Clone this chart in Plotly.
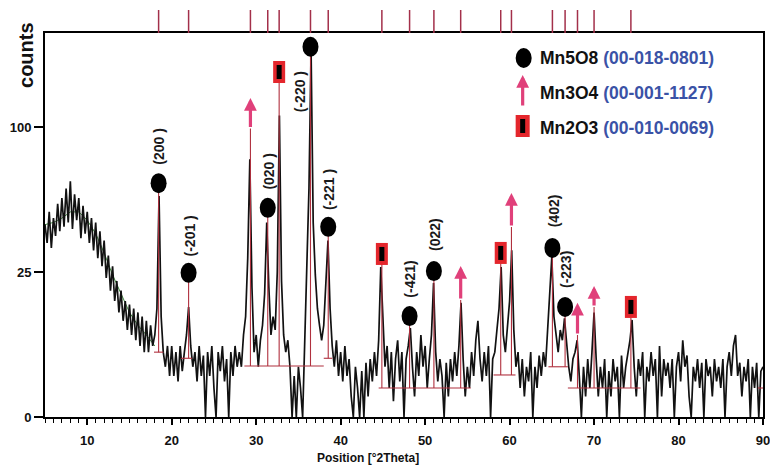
import numpy as np
import plotly.graph_objects as go

# ---------------- data (counts) ----------------
two_theta_start = 5.0
two_theta_step = 0.25
counts = [
    44, 36, 50, 34, 47, 39, 54, 41, 57, 43, 62, 45, 66, 42, 59, 46, 57, 38, 53, 40,          # 5.00 - 9.75
    50, 36, 47, 33, 45, 30, 41, 27, 37, 23, 31, 19, 27, 16, 22, 13, 19, 11, 16, 9,           # 10.00 - 14.75
    15, 8, 14, 7, 13, 6, 12, 5, 11, 5, 10, 6, 8, 14, 58, 12, 5, 3, 6, 2,                     # 15.00 - 19.75
    6, 2, 5, 1.5, 6, 2.5, 5, 8, 14.4, 6, 3, 5, 1.5, 6, 2, 4.5, 0, 5, 2, 6,                    # 20.00 - 24.75
    1, 0, 5, 2.5, 6, 1.5, 4, 0, 5, 2, 6, 3, 5, 3, 8, 12, 30, 79, 20, 5,                       # 25.00 - 29.75
    8, 3, 7, 10, 18, 45, 20, 8, 12, 9, 25, 108, 22, 8, 5, 7, 3, 0, 2, 0,                      # 30.00 - 34.75
    3, 1, 0, 8, 22, 62, 160, 45, 24, 14, 10, 7, 10, 20, 37, 14, 6, 3, 7, 2,                   # 35.00 - 39.75
    5, 1.5, 6, 2, 4, 0.5, 0, 3, 1, 0, 2.5, 0, 3.5, 0.5, 4, 1.5, 5, 2, 7, 26.7,                # 40.00 - 44.75
    11, 3, 6, 1, 5, 0.3, 4, 7, 1.5, 5, 0, 4, 6, 9.4, 3, 0.5, 5, 2, 8, 3,                      # 45.00 - 49.75
    6, 1, 4, 8, 21.3, 5, 1.5, 4, 2, 0, 3.5, 0.5, 4, 1.5, 5, 2, 6, 15.5, 4, 0.5,               # 50.00 - 54.75
    3, 1, 5, 2, 7, 11, 4, 1.5, 5, 2, 6, 0, 4, 5, 9, 14, 26.7, 8, 5, 9,                        # 55.00 - 59.75
    16, 33, 9, 3, 5, 1, 4, 0.5, 3, 1.5, 5, 0, 3, 1, 4.5, 2, 5, 3, 9, 17,                      # 60.00 - 64.75
    30.4, 12, 8, 5, 9, 7, 11.6, 6, 3, 1.5, 4, 5, 7, 2, 0, 3, 0.5, 4, 1, 5,                    # 65.00 - 69.75
    13, 4, 0.5, 3, 1, 4, 0, 2.5, 0.5, 4, 1.5, 3, 0, 4.5, 1, 3, 5, 7, 11.2, 3,                 # 70.00 - 74.75
    0.5, 4, 2, 5, 0, 3, 1.5, 5, 2, 4, 0, 6, 0.5, 4, 2, 3.5, 1, 4, 0, 3,                       # 75.00 - 79.75
    5, 1.5, 7, 3, 4.5, 0.5, 0, 3, 1.5, 4, 1, 3.5, 0, 4, 2, 3, 0.5, 4, 1.5, 3,                 # 80.00 - 84.75
    1, 4, 0, 3, 5, 2, 6, 8, 2, 3.5, 0.5, 3, 1.5, 4, 0, 3, 1, 3.5, 0, 2.5,                     # 85.00 - 89.75
    3,                                                                                        # 90.00
]

# smoothed background (green)
bg_two_theta = [5, 6, 7, 8, 9, 10, 11, 12, 13, 14, 15, 16, 17, 18]
bg_counts = [44, 45, 47, 50, 50, 46, 40, 32, 24, 18, 13, 10, 8, 6]

# reference phases
mn5o8_pos = [18.45, 22.0, 31.37, 36.43, 38.53, 48.16, 51.04, 65.07, 66.57]
mn5o8_hkl = ["(200 )", "(-201 )", "(020 )", "(-220 )", "(-221 )", "(-421)", "(022)", "(402)", "(-223)"]
mn5o8_marker_counts = [65, 24.7, 52, 163, 43, 12.1, 25.3, 34, 14.4]
mn5o8_base_counts = [5, 4.1, 3.1, 3.1, 4.1, 1, 1, 3, 3]

mn3o4_pos = [29.32, 54.21, 60.22, 68.04, 70.0]
mn3o4_tip_counts = [121, 27.1, 59.7, 15.5, 20.4]
mn3o4_tail_counts = [99, 16.3, 42.9, 8.0, 14.4]
mn3o4_base_counts = [3.1, 1, 2.1, 1, 1]

mn2o3_pos = [32.72, 44.88, 58.95, 74.36]
mn2o3_marker_counts = [141.5, 31.6, 32, 14.4]
mn2o3_base_counts = [3.1, 1, 2.1, 1]

# calculated-profile baseline segments (red)
seg_start = [17.9, 21.1, 28.6, 38.0, 44.5, 58.1, 64.6, 66.9, 89.4]
seg_end = [19.0, 22.4, 38.0, 39.0, 55.4, 60.7, 66.9, 75.5, 90.0]
seg_level = [5, 4.1, 3.1, 4.1, 1.0, 2.1, 3.0, 1.0, 1.0]

x_tick_vals = [10, 20, 30, 40, 50, 60, 70, 80, 90]
y_tick_counts = [0, 25, 100]
y_tick_text = ["0", "25", "100"]

legend_names = ["Mn5O8", "Mn3O4", "Mn2O3"]
legend_cards = ["(00-018-0801)", "(00-001-1127)", "(00-010-0069)"]

# ---------------- figure ----------------
FONT = "Liberation Sans, Arial, sans-serif"
BLUE = "#3a52a6"
PINK = "#e0407a"
RED = "#e4262c"
STICK = "#b0303e"

def sq(v):
    return float(np.sqrt(v))

two_theta = two_theta_start + two_theta_step * np.arange(len(counts))
y_obs = np.sqrt(np.asarray(counts, dtype=float))

fig = go.Figure()

fig.add_trace(go.Scatter(x=bg_two_theta, y=np.sqrt(bg_counts), mode="lines",
                         line=dict(color="#3d8a3d", width=1), hoverinfo="skip", showlegend=False))
fig.add_trace(go.Scatter(x=two_theta, y=y_obs, mode="lines",
                         line=dict(color="#111111", width=1.7), showlegend=False))

# red profile: baseline segments + sticks
px, py = [], []
for a, b, l in zip(seg_start, seg_end, seg_level):
    px += [a, b, None]
    py += [sq(l), sq(l), None]
for pos_list, base_list, top_list in [
    (mn5o8_pos, mn5o8_base_counts, mn5o8_marker_counts),
    (mn3o4_pos, mn3o4_base_counts, mn3o4_tail_counts),
    (mn2o3_pos, mn2o3_base_counts, mn2o3_marker_counts),
]:
    for p, b, t in zip(pos_list, base_list, top_list):
        px += [p, p, None]
        py += [sq(b), sq(t), None]
fig.add_trace(go.Scatter(x=px, y=py, mode="lines", line=dict(color=STICK, width=1.1),
                         hoverinfo="skip", showlegend=False))

# top reference ticks
all_pos = sorted(mn5o8_pos + mn3o4_pos + mn2o3_pos)
tx, ty = [], []
for p in all_pos:
    tx += [p, p, None]
    ty += [0, 1, None]
fig.add_trace(go.Scatter(x=tx, y=ty, xaxis="x", yaxis="y2", mode="lines",
                         line=dict(color="#a3304a", width=1.5), hoverinfo="skip", showlegend=False))

shapes = []
annotations = []

# Mn5O8 circles + hkl labels
label_shift = {"(-220 )": (-11, -45)}
for p, c, hkl in zip(mn5o8_pos, mn5o8_marker_counts, mn5o8_hkl):
    shapes.append(dict(type="circle", xref="x", yref="y", xsizemode="pixel", ysizemode="pixel",
                       xanchor=p, yanchor=sq(c), x0=-8, x1=8, y0=-10, y1=10,
                       fillcolor="black", line=dict(width=0)))
    dx, dy = label_shift.get(hkl, (1, 37))
    annotations.append(dict(x=p, y=sq(c), xref="x", yref="y", text=hkl, showarrow=False,
                            textangle=-90, xshift=dx, yshift=dy, xanchor="center", yanchor="middle",
                            font=dict(family=FONT, size=14, color="#1a1a1a", weight="bold")))

# Mn3O4 arrows
for p, tip, tail in zip(mn3o4_pos, mn3o4_tip_counts, mn3o4_tail_counts):
    annotations.append(dict(x=p, y=sq(tip), ax=p, ay=sq(tail), xref="x", yref="y",
                            axref="x", ayref="y", text="", showarrow=True,
                            arrowhead=2, arrowsize=0.8, arrowwidth=3.2, arrowcolor=PINK))

# Mn2O3 rectangles
for p, c in zip(mn2o3_pos, mn2o3_marker_counts):
    shapes.append(dict(type="rect", xref="x", yref="y", xsizemode="pixel", ysizemode="pixel",
                       xanchor=p, yanchor=sq(c), x0=-6, x1=6, y0=-11, y1=11,
                       fillcolor=RED, line=dict(width=0)))
    shapes.append(dict(type="rect", xref="x", yref="y", xsizemode="pixel", ysizemode="pixel",
                       xanchor=p, yanchor=sq(c), x0=-2.5, x1=2.5, y0=-7, y1=7,
                       fillcolor="black", line=dict(width=0)))

# legend (paper coords; plot area is 717 x 407 px starting at x=45, bottom y=417)
def pxx(x):
    return (x - 45) / 717.0

def pyy(y):
    return (417 - y) / 407.0

shapes.append(dict(type="circle", xref="paper", yref="paper", x0=pxx(515), x1=pxx(531),
                   y0=pyy(68), y1=pyy(48), fillcolor="black", line=dict(width=0)))
annotations.append(dict(x=pxx(522), y=pyy(75), xref="paper", yref="paper", ax=0, ay=32,
                        text="", showarrow=True, arrowhead=2, arrowsize=0.8, arrowwidth=3.2,
                        arrowcolor=PINK))
shapes.append(dict(type="rect", xref="paper", yref="paper", x0=pxx(515), x1=pxx(529),
                   y0=pyy(137), y1=pyy(115), fillcolor=RED, line=dict(width=0)))
shapes.append(dict(type="rect", xref="paper", yref="paper", x0=pxx(519.5), x1=pxx(524.5),
                   y0=pyy(133), y1=pyy(119), fillcolor="black", line=dict(width=0)))
for name, card, yy in zip(legend_names, legend_cards, [58, 93, 128]):
    annotations.append(dict(x=pxx(537), y=pyy(yy), xref="paper", yref="paper", showarrow=False,
                            xanchor="left", yanchor="middle",
                            text=f"{name} <span style='color:{BLUE}'>{card}</span>",
                            font=dict(family=FONT, size=17.5, color="#111111", weight="bold")))

# axis titles
annotations.append(dict(x=pxx(26), y=pyy(55), xref="paper", yref="paper", text="counts",
                        showarrow=False, textangle=-90, xanchor="center", yanchor="middle",
                        font=dict(family=FONT, size=20, color="#111111", weight="bold")))
annotations.append(dict(x=pxx(368), y=pyy(458), xref="paper", yref="paper",
                        text="Position [°2Theta]", showarrow=False, xanchor="center", yanchor="middle",
                        font=dict(family=FONT, size=12, color="#111111", weight="bold")))

main_top = 384.0 / 407.0
fig.update_layout(
    autosize=False,
    width=778, height=466,
    margin=dict(l=45, r=8, t=10, b=49),
    paper_bgcolor="white", plot_bgcolor="white",
    showlegend=False,
    font=dict(family=FONT, color="#111111"),
    xaxis=dict(range=[5, 90], tickvals=x_tick_vals, ticks="outside", ticklen=6, tickwidth=1.5,
               tickcolor="black", showline=True, linecolor="black", linewidth=2, mirror=True,
               showgrid=False, zeroline=False, anchor="y", ticklabelstandoff=4,
               tickfont=dict(family=FONT, size=13, color="#111111", weight="bold"),
               minor=dict(dtick=1, tick0=5, ticks="outside", ticklen=4, tickwidth=1, tickcolor="black",
                          showgrid=False)),
    yaxis=dict(domain=[0, main_top], range=[0, 13.24],
               tickvals=[sq(v) for v in y_tick_counts], ticktext=y_tick_text,
               ticks="outside", ticklen=9, tickwidth=1.5, tickcolor="black",
               showline=True, linecolor="black", linewidth=2, mirror=True,
               showgrid=False, zeroline=False, anchor="x",
               tickfont=dict(family=FONT, size=13, color="#111111", weight="bold")),
    yaxis2=dict(domain=[main_top, 1.0], range=[0, 1], visible=False, anchor="x",
                showgrid=False, zeroline=False),
    shapes=shapes,
    annotations=annotations,
)

css = ("var s=document.createElement('style');"
       "s.textContent='html,body{margin:0;padding:0;overflow:hidden;}"
       ".plotly-graph-div{position:absolute;left:0;top:0;}';"
       "document.head.appendChild(s);")
fig.write_html("out.html",
               config={"displayModeBar": False, "responsive": False},
               post_script=css)
